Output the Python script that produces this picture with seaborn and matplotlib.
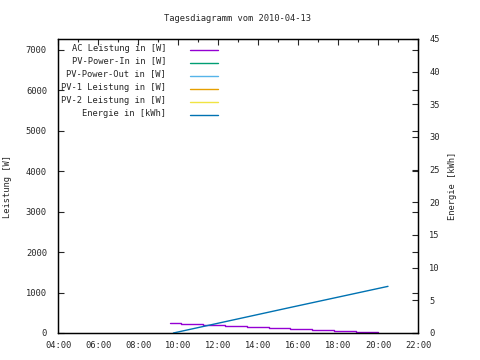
import matplotlib
matplotlib.use("Agg")
import matplotlib.pyplot as plt
import seaborn as sns
import pandas as pd
from matplotlib.ticker import FixedLocator, MultipleLocator

sns.set_style("white")
plt.rcParams['font.family'] = ['DejaVu Sans Mono']

title = "Tagesdiagramm vom 2010-04-13"
ylabel_left = "Leistung [W]"
ylabel_right = "Energie [kWh]"

x_ticks = [4, 6, 8, 10, 12, 14, 16, 18, 20, 22]
x_ticklabels = ["04:00", "06:00", "08:00", "10:00", "12:00", "14:00",
                "16:00", "18:00", "20:00", "22:00"]
left_ticks = [0, 1000, 2000, 3000, 4000, 5000, 6000, 7000]
right_ticks = [0, 5, 10, 15, 20, 25, 30, 35, 40, 45]

# AC Leistung (W), step series
ac_hours = [9.6, 10.15, 11.23, 12.35, 13.43, 14.55, 15.6, 16.7, 17.8, 18.9, 20.0]
ac_watts = [240, 215, 190, 165, 140, 115, 91, 66, 42, 17, 17]

# Energie (kWh)
en_hours = [9.77, 15.6, 20.5]
en_kwh = [0.0, 3.9, 7.14]

series_names = ["AC Leistung in [W]", "PV-Power-In in [W]", "PV-Power-Out in [W]",
                "PV-1 Leistung in [W]", "PV-2 Leistung in [W]", "Energie in [kWh]"]
series_colors = ["#9400d3", "#009e73", "#56b4e9", "#e69f00", "#f0e442", "#0072b2"]

fs = 6.3
lw = 1.0
fig = plt.figure(figsize=(4.8, 3.6), dpi=100)
ax = fig.add_axes([58/480, 27/360, 360/480, 294/360])
ax2 = ax.twinx()

ac_df = pd.DataFrame({"h": ac_hours, "w": ac_watts})
en_df = pd.DataFrame({"h": en_hours, "e": en_kwh})

sns.lineplot(data=ac_df, x="h", y="w", ax=ax, color=series_colors[0],
             drawstyle="steps-post", lw=lw, legend=False)
sns.lineplot(data=en_df, x="h", y="e", ax=ax2, color=series_colors[5],
             lw=lw, legend=False)

ax.set_xlim(4, 22)
ax.set_ylim(0, 7260)
ax2.set_ylim(0, 45)

ax.xaxis.set_major_locator(FixedLocator(x_ticks))
ax.set_xticklabels(x_ticklabels)
ax.xaxis.set_minor_locator(MultipleLocator(1))
ax.yaxis.set_major_locator(FixedLocator(left_ticks))
ax2.yaxis.set_major_locator(FixedLocator(right_ticks))

ax.set_xlabel("")
ax.set_ylabel(ylabel_left, fontsize=fs, labelpad=10)
ax2.set_ylabel(ylabel_right, fontsize=fs, rotation=90, labelpad=6)

ax.tick_params(axis="x", which="major", direction="in", length=4, width=0.8,
               top=True, labelsize=fs, pad=6)
ax.tick_params(axis="x", which="minor", direction="in", length=2.5, width=0.8,
               top=True)
ax.tick_params(axis="y", which="major", direction="in", length=4, width=0.8,
               right=True, labelsize=fs, pad=8)
ax2.tick_params(axis="y", which="major", direction="in", length=4, width=0.8,
                labelsize=fs, pad=8)

for a in (ax, ax2):
    for s in a.spines.values():
        s.set_color("black")
        s.set_linewidth(0.9)

ax.set_title(title, fontsize=fs, pad=13)

# legend (manual, gnuplot style)
y0 = 0.969
dy = 13/294
for i, (name, col) in enumerate(zip(series_names, series_colors)):
    yy = y0 - i*dy
    ax.text(0.30, yy, name, transform=ax.transAxes, ha="right", va="center",
            fontsize=fs)
    ax.plot([0.367, 0.444], [yy - 0.006, yy - 0.006], transform=ax.transAxes,
            color=col, lw=lw)

fig.savefig("out.png", dpi=100)
